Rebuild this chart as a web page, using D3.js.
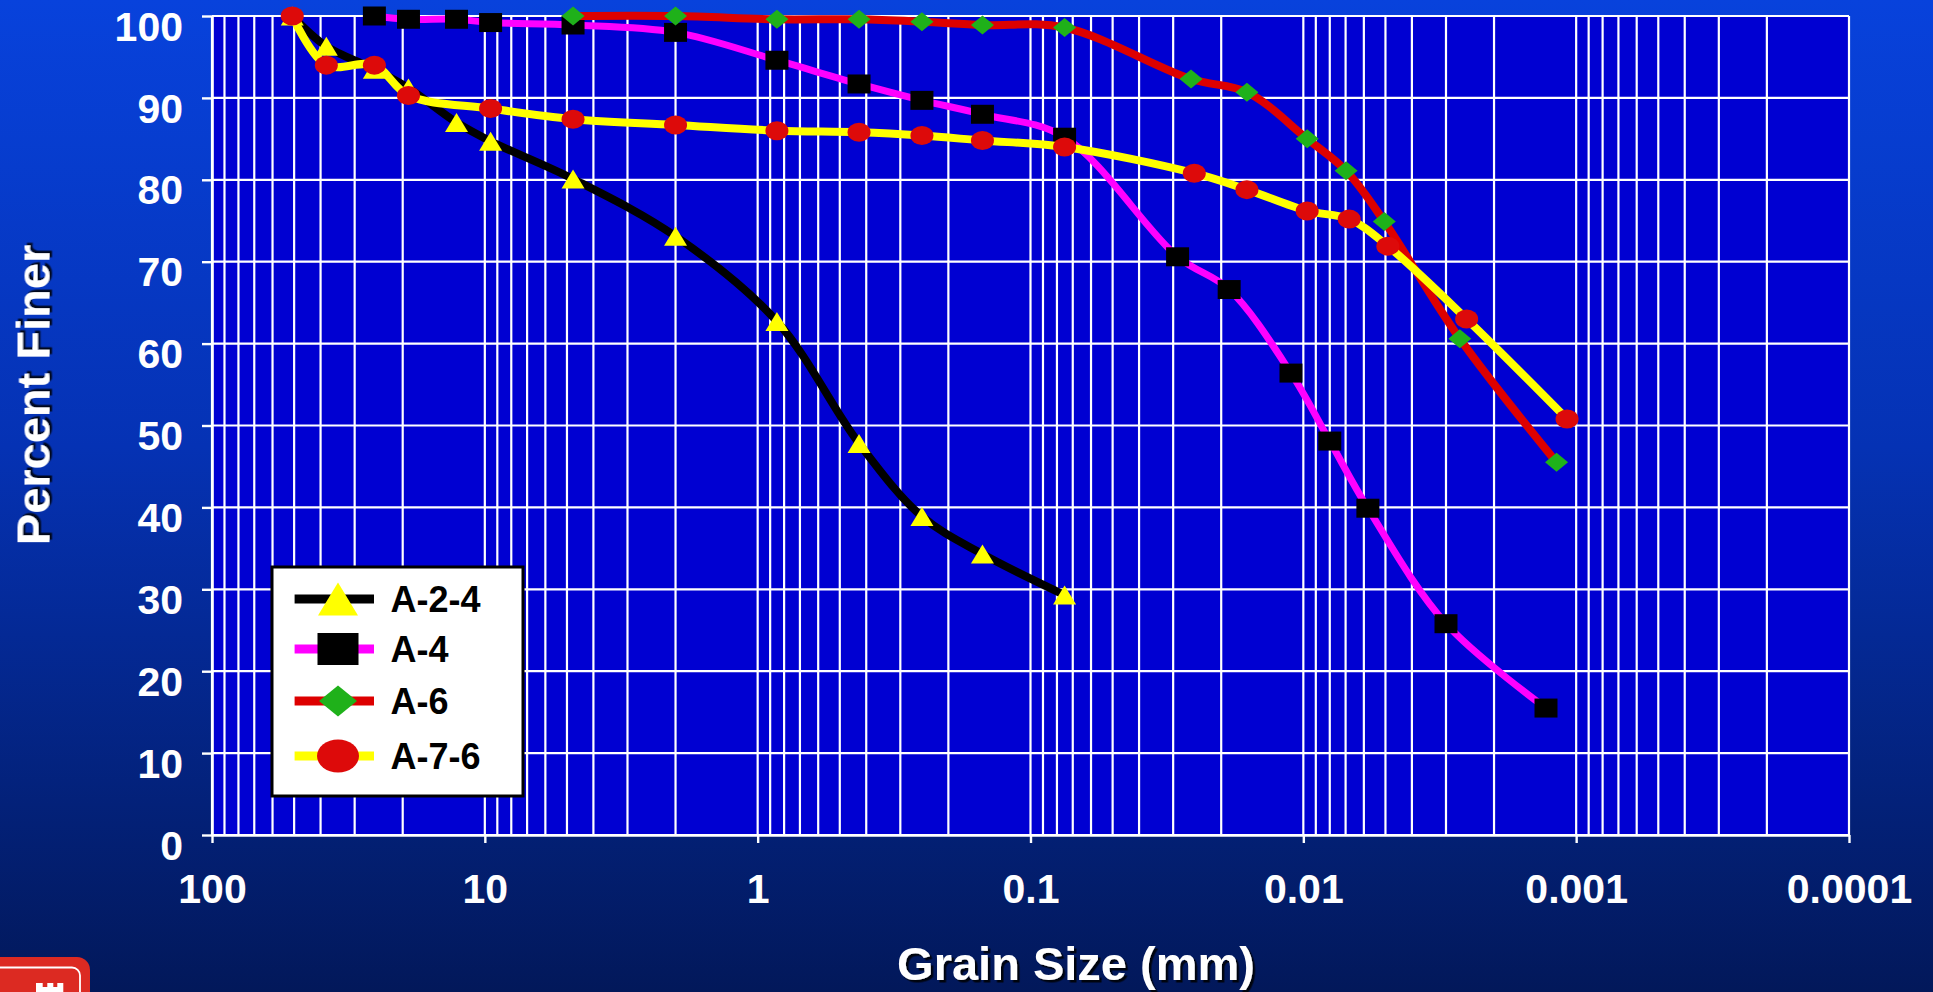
<!DOCTYPE html>
<html>
<head>
<meta charset="utf-8">
<script src="https://cdn.jsdelivr.net/npm/d3@7"></script>
<style>
  html, body { margin: 0; padding: 0; overflow: hidden; background: #02185a; }
  svg { display: block; font-family: "Liberation Sans", Arial, Helvetica, sans-serif; font-weight: bold; }
</style>
</head>
<body>
<svg id="chart" width="1933" height="992"></svg>
<script>
// Grain-size distribution curves for four AASHTO soil groups.
// Sizes in mm (sieve + hydrometer), values in percent finer.
const seriesNames = ["A-2-4", "A-4", "A-6", "A-7-6"];

const a24Size = [50.8, 38.1, 25.4, 19.05, 12.7, 9.525, 4.75, 2.0, 0.85, 0.425, 0.25, 0.15, 0.075];
const a24Pct  = [100, 96.3, 93.5, 91.2, 87.0, 84.7, 80.1, 73.1, 62.7, 47.8, 38.9, 34.3, 29.3];

const a4Size = [25.4, 19.05, 12.7, 9.525, 4.75, 2.0, 0.85, 0.425, 0.25, 0.15, 0.075, 0.0289, 0.0187, 0.0111, 0.0080, 0.0058, 0.0030, 0.00129];
const a4Pct  = [100, 99.6, 99.6, 99.2, 98.9, 98.0, 94.6, 91.7, 89.7, 88.0, 85.2, 70.6, 66.6, 56.4, 48.1, 39.9, 25.8, 15.5];

const a6Size = [4.75, 2.0, 0.85, 0.425, 0.25, 0.15, 0.075, 0.0258, 0.0161, 0.00968, 0.00697, 0.00505, 0.00267, 0.00118];
const a6Pct  = [100, 100, 99.6, 99.6, 99.3, 98.9, 98.6, 92.3, 90.7, 85.0, 81.1, 74.9, 60.6, 45.5];

const a76Size = [50.8, 38.1, 25.4, 19.05, 9.525, 4.75, 2.0, 0.85, 0.425, 0.25, 0.15, 0.075, 0.0251, 0.0161, 0.00968, 0.00679, 0.0049, 0.00252, 0.00108];
const a76Pct  = [100, 94.0, 94.0, 90.3, 88.7, 87.4, 86.7, 86.0, 85.8, 85.4, 84.8, 84.0, 80.8, 78.8, 76.2, 75.2, 71.9, 63.0, 50.8];

const xTickValues = [100, 10, 1, 0.1, 0.01, 0.001, 0.0001];
const xTickLabels = ["100", "10", "1", "0.1", "0.01", "0.001", "0.0001"];
const yTickValues = [0, 10, 20, 30, 40, 50, 60, 70, 80, 90, 100];
const yTickLabels = ["0", "10", "20", "30", "40", "50", "60", "70", "80", "90", "100"];

const xTitle = "Grain Size (mm)";
const yTitle = "Percent Finer";

// ---- styling per series ----
const series = [
  { name: seriesNames[0], size: a24Size, pct: a24Pct, stroke: "#000000", width: 8, shape: "triangle", fill: "#FFFF00" },
  { name: seriesNames[1], size: a4Size,  pct: a4Pct,  stroke: "#FF00FF", width: 7, shape: "square",   fill: "#000000" },
  { name: seriesNames[2], size: a6Size,  pct: a6Pct,  stroke: "#DD0000", width: 8, shape: "diamond",  fill: "#1FB11A" },
  { name: seriesNames[3], size: a76Size, pct: a76Pct, stroke: "#FFFF00", width: 8, shape: "circle",   fill: "#DD0A0A" }
];

const W = 1933, H = 992;
const plot = { left: 212, right: 1849, top: 16, bottom: 835 };

const svg = d3.select("#chart");
const defs = svg.append("defs");

// page background gradient
const bg = defs.append("linearGradient").attr("id", "bg")
  .attr("x1", 0).attr("y1", 0).attr("x2", 0).attr("y2", 1);
bg.append("stop").attr("offset", "0%").attr("stop-color", "#0842dc");
bg.append("stop").attr("offset", "45%").attr("stop-color", "#0532b4");
bg.append("stop").attr("offset", "100%").attr("stop-color", "#02185a");

// drop shadow for the axis titles
const sh = defs.append("filter").attr("id", "shadow")
  .attr("x", "-10%").attr("y", "-10%").attr("width", "120%").attr("height", "130%");
sh.append("feDropShadow").attr("dx", 2.5).attr("dy", 2.5).attr("stdDeviation", 0.6)
  .attr("flood-color", "#000").attr("flood-opacity", 0.85);

svg.append("rect").attr("width", W).attr("height", H).attr("fill", "url(#bg)");

// ---- scales ----
const x = d3.scaleLog().domain([100, 0.0001]).range([plot.left, plot.right]);
const y = d3.scaleLinear().domain([0, 100]).range([plot.bottom, plot.top]);

// plot area
svg.append("rect")
  .attr("x", plot.left).attr("y", plot.top)
  .attr("width", plot.right - plot.left).attr("height", plot.bottom - plot.top)
  .attr("fill", "#0000D2");

// ---- grid ----
const grid = svg.append("g").attr("stroke", "#ffffff").attr("stroke-width", 2.2);
const minorTicks = x.ticks().filter(v => v >= 0.0001 * 0.999 && v <= 100 * 1.001);
grid.selectAll("line.v").data(minorTicks).join("line")
  .attr("class", "v")
  .attr("x1", d => x(d)).attr("x2", d => x(d))
  .attr("y1", plot.top).attr("y2", plot.bottom);
grid.selectAll("line.h").data(yTickValues).join("line")
  .attr("class", "h")
  .attr("x1", plot.left).attr("x2", plot.right)
  .attr("y1", d => y(d)).attr("y2", d => y(d));

// ---- axes ----
const yAxis = d3.axisLeft(y)
  .tickValues(yTickValues)
  .tickFormat((d, i) => yTickLabels[i])
  .tickSize(10).tickSizeOuter(0).tickPadding(19);
const gy = svg.append("g").attr("transform", `translate(${plot.left},0)`).call(yAxis);

const xAxis = d3.axisBottom(x)
  .tickValues(xTickValues)
  .tickFormat((d, i) => xTickLabels[i])
  .tickSize(8).tickSizeOuter(0).tickPadding(31);
const gx = svg.append("g").attr("transform", `translate(0,${plot.bottom})`).call(xAxis);

[gx, gy].forEach(g => {
  g.select(".domain").attr("stroke", "#ffffff").attr("stroke-width", 2.6);
  g.selectAll(".tick line").attr("stroke", "#ffffff").attr("stroke-width", 2.4);
  g.selectAll(".tick text")
    .attr("fill", "#ffffff")
    .attr("font-size", 41)
    .attr("font-weight", "bold")
    .attr("font-family", "'Liberation Sans', Arial, sans-serif");
});
gy.selectAll(".tick text").attr("y", 11);

// ---- marker shapes (slightly wider than tall) ----
function markerPath(shape, w, h) {
  const a = w / 2, b = h / 2;
  switch (shape) {
    case "triangle": return `M0,${-b}L${a},${b}L${-a},${b}Z`;
    case "square":   return `M${-a},${-b}H${a}V${b}H${-a}Z`;
    case "diamond":  return `M0,${-b}L${a},0L0,${b}L${-a},0Z`;
    default:         return `M${-a},0A${a},${b} 0 1,0 ${a},0A${a},${b} 0 1,0 ${-a},0Z`;
  }
}

const line = d3.line()
  .x(d => x(d[0]))
  .y(d => y(d[1]))
  .curve(d3.curveCatmullRom.alpha(0.5));

// ---- series ----
series.forEach(s => {
  const pts = s.size.map((v, i) => [v, s.pct[i]]);
  const g = svg.append("g").attr("class", "series");
  g.append("path")
    .datum(pts)
    .attr("d", line)
    .attr("fill", "none")
    .attr("stroke", s.stroke)
    .attr("stroke-width", s.width)
    .attr("stroke-linejoin", "round")
    .attr("stroke-linecap", "butt");
  g.selectAll("path.mk").data(pts).join("path")
    .attr("class", "mk")
    .attr("d", markerPath(s.shape, 23, 19))
    .attr("transform", d => `translate(${x(d[0])},${y(d[1])})`)
    .attr("fill", s.fill);
});

// ---- legend ----
const lg = svg.append("g").attr("transform", "translate(272,567)");
lg.append("rect")
  .attr("width", 251).attr("height", 229)
  .attr("fill", "#ffffff").attr("stroke", "#000000").attr("stroke-width", 3);
const legendRows = [32, 82, 134, 189];
const legendMarkerSize = { triangle: [40, 33], square: [41, 32], diamond: [38, 31], circle: [42, 33] };
series.forEach((s, i) => {
  const row = lg.append("g").attr("transform", `translate(0,${legendRows[i]})`);
  row.append("line")
    .attr("x1", 22.6).attr("x2", 102)
    .attr("y1", 0).attr("y2", 0)
    .attr("stroke", s.stroke).attr("stroke-width", 9);
  const ms = legendMarkerSize[s.shape];
  row.append("path")
    .attr("d", markerPath(s.shape, ms[0], ms[1]))
    .attr("transform", "translate(66,0)")
    .attr("fill", s.fill);
  row.append("text")
    .attr("x", 118.6).attr("y", 13)
    .attr("font-size", 36)
    .attr("fill", "#000000")
    .text(s.name);
});

// ---- axis titles ----
svg.append("text")
  .attr("x", 1076).attr("y", 980)
  .attr("text-anchor", "middle")
  .attr("font-size", 47)
  .attr("fill", "#ffffff")
  .attr("filter", "url(#shadow)")
  .text(xTitle);

svg.append("text")
  .attr("transform", "translate(49.5,395) rotate(-90)")
  .attr("text-anchor", "middle")
  .attr("font-size", 47)
  .attr("fill", "#ffffff")
  .attr("filter", "url(#shadow)")
  .text(yTitle);

// ---- corner emblem (partially visible castle badge) ----
const logo = svg.append("g");
logo.append("rect")
  .attr("x", -20).attr("y", 957).attr("width", 110).attr("height", 70)
  .attr("rx", 13).attr("fill", "#dc2a22");
logo.append("rect")
  .attr("x", -20).attr("y", 967.5).attr("width", 100).attr("height", 60)
  .attr("rx", 8).attr("fill", "none")
  .attr("stroke", "#ffffff").attr("stroke-width", 1.8);
logo.append("path")
  .attr("d", "M36,996V983H42.7V987H47.3V983H53.3V987H57.3V983H63.3V996Z")
  .attr("fill", "#ffffff");
</script>
</body>
</html>
